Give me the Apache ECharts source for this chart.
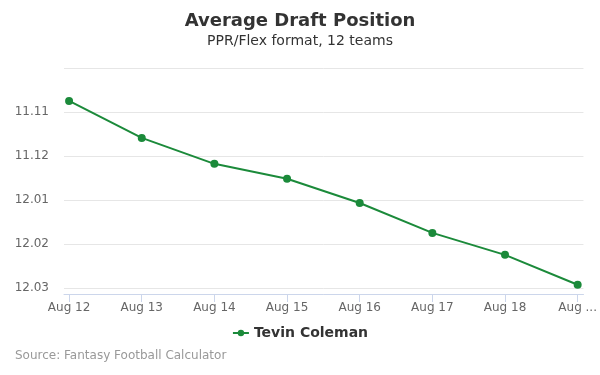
<!DOCTYPE html>
<html>
<head>
<meta charset="utf-8">
<script src="https://cdn.jsdelivr.net/npm/echarts@6/dist/echarts.min.js"></script>
<style>
	html, body { margin: 0; padding: 0; background: #fff; }
	#chart { width: 600px; height: 375px; }
</style>
</head>
<body>
<div id="chart"></div>
<script>
// data (overall pick number, 12 teams)
var dates = ['Aug 12', 'Aug 13', 'Aug 14', 'Aug 15', 'Aug 16', 'Aug 17', 'Aug 18', 'Aug 19'];
var adp = [130.75, 131.59, 132.18, 132.52, 133.07, 133.75, 134.25, 134.93];
var pickTicks = [131, 132, 133, 134, 135];
var teams = 12;

function pickLabel(v) {
	var round = Math.floor((v - 1) / teams) + 1;
	var pick = Math.round(v - 1) % teams + 1;
	return round + '.' + (pick < 10 ? '0' + pick : pick);
}

var chart = echarts.init(document.getElementById('chart'));
var green = '#1b8a3a';
var points = [];
for (var i = 0; i < adp.length; i++) {
	points.push([i, adp[i]]);
}

var option = {
	animation: false,
	textStyle: { fontFamily: 'DejaVu Sans' },
	title: {
		text: 'Average Draft Position',
		subtext: 'PPR/Flex format, 12 teams',
		left: 'center',
		top: 7,
		itemGap: 4,
		textStyle: { fontSize: 18, fontWeight: 'bold', color: '#333' },
		subtextStyle: { fontSize: 14, color: '#333' }
	},
	legend: {
		bottom: 30,
		left: 'center',
		itemWidth: 16,
		itemHeight: 8,
		textStyle: { fontSize: 14, fontWeight: 'bold', color: '#333' },
		data: ['Tevin Coleman']
	},
	graphic: [{
		type: 'text',
		left: 15,
		top: 350,
		style: { text: 'Source: Fantasy Football Calculator', fill: '#999', fontSize: 12, fontFamily: 'DejaVu Sans' }
	}],
	grid: { left: 64, right: 14, top: 68, bottom: 81 },
	xAxis: {
		type: 'value',
		min: -0.07,
		max: 7.08,
		splitLine: { show: false },
		axisLine: { lineStyle: { color: '#ccd6eb' } },
		axisTick: { show: true, length: 8, customValues: [0, 1, 2, 3, 4, 5, 6, 7], lineStyle: { color: '#ccd6eb' } },
		axisLabel: {
			customValues: [0, 1, 2, 3, 4, 5, 6, 7],
			color: '#666',
			fontSize: 12,
			margin: 8,
			formatter: function (v) {
				var idx = Math.round(v);
				var s = dates[idx] || '';
				return idx === dates.length - 1 ? s.slice(0, 3) + ' ...' : s;
			}
		}
	},
	yAxis: {
		type: 'value',
		inverse: true,
		min: 130,
		max: 135.14,
		axisLine: { show: false },
		axisTick: { show: false },
		splitLine: { lineStyle: { color: '#e6e6e6' } },
		axisLabel: {
			customValues: pickTicks,
			color: '#666',
			fontSize: 12,
			margin: 15,
			formatter: function (v) { return pickLabel(v); }
		}
	},
	series: [{
		name: 'Tevin Coleman',
		type: 'line',
		data: points,
		color: green,
		symbol: 'circle',
		symbolSize: 8,
		lineStyle: { width: 2, color: green },
		itemStyle: { color: green }
	}]
};

chart.setOption(option);
</script>
</body>
</html>
